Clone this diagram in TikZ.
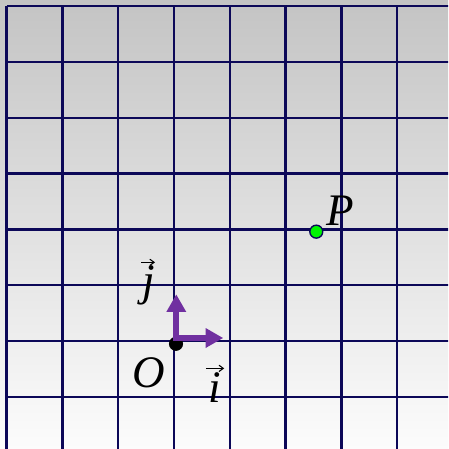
\documentclass[tikz,border=0pt]{standalone}
\usepackage{fontspec}
\setmainfont{Liberation Serif}
\usetikzlibrary{arrows.meta}
\definecolor{gridnavy}{RGB}{12,8,88}
\definecolor{vecpurple}{RGB}{112,48,160}
\definecolor{ptgreen}{RGB}{0,245,0}
\tikzset{
  gridline/.style={draw=gridnavy, line width=1.3pt},
  basisvec/.style={draw=vecpurple, line width=3pt, -{Triangle[length=9pt,width=9.5pt]}},
  vecmark/.style={draw=black, line width=0.55pt, -{Straight Barb[length=2.2pt,width=3.2pt]}},
  lbl/.style={font=\fontsize{23}{27}\selectfont\itshape, inner sep=0pt, text=black, anchor=base},
}
\begin{document}
\begin{tikzpicture}
\useasboundingbox (-3.118,-1.935) rectangle (4.911,6.111);
\shade[top color={rgb,255:red,196;green,196;blue,196}, bottom color={rgb,255:red,252;green,252;blue,252}]
  (-3.118,-1.935) rectangle (4.911,6.111);
\begin{scope}
\clip (-3.118,-1.935) rectangle (4.911,6.111);
\foreach \x in {-3,...,5} \draw[gridline] (\x,-2.2) -- (\x,6);
\foreach \y in {-2,...,6} \draw[gridline] (-3,\y) -- (5.2,\y);
\end{scope}
% origin and point
\node[circle, fill=black, inner sep=0pt, minimum size=7.2pt] (O) at (0.036,-0.05) {};
\coordinate (istart) at (-0.01,0.054);
\coordinate (itip) at (0.883,0.054);
\coordinate (jstart) at (0.041,0.03);
\coordinate (jtip) at (0.041,0.837);
\draw[basisvec] (istart) -- (itip);
\draw[basisvec] (jstart) -- (jtip);
\node[circle, draw=gridnavy, line width=0.7pt, fill=ptgreen, inner sep=0pt, minimum size=6.6pt] (P) at (2.55,1.96) {};
% labels
\node[lbl] (Olbl) at (-0.448,-0.824) {O};
\node[lbl] (Plbl) at (2.975,2.079) {P};
\node[lbl] (ilbl) at (0.73,-1.093) {i};
\node[lbl] (jlbl) at (-0.46,0.824) {j};
\coordinate (ia) at (0.573,-0.49);
\coordinate (ib) at (0.90,-0.49);
\coordinate (ja) at (-0.59,1.41);
\coordinate (jb) at (-0.34,1.41);
\draw[vecmark] (ia) -- (ib);
\draw[vecmark] (ja) -- (jb);
\end{tikzpicture}
\end{document}
